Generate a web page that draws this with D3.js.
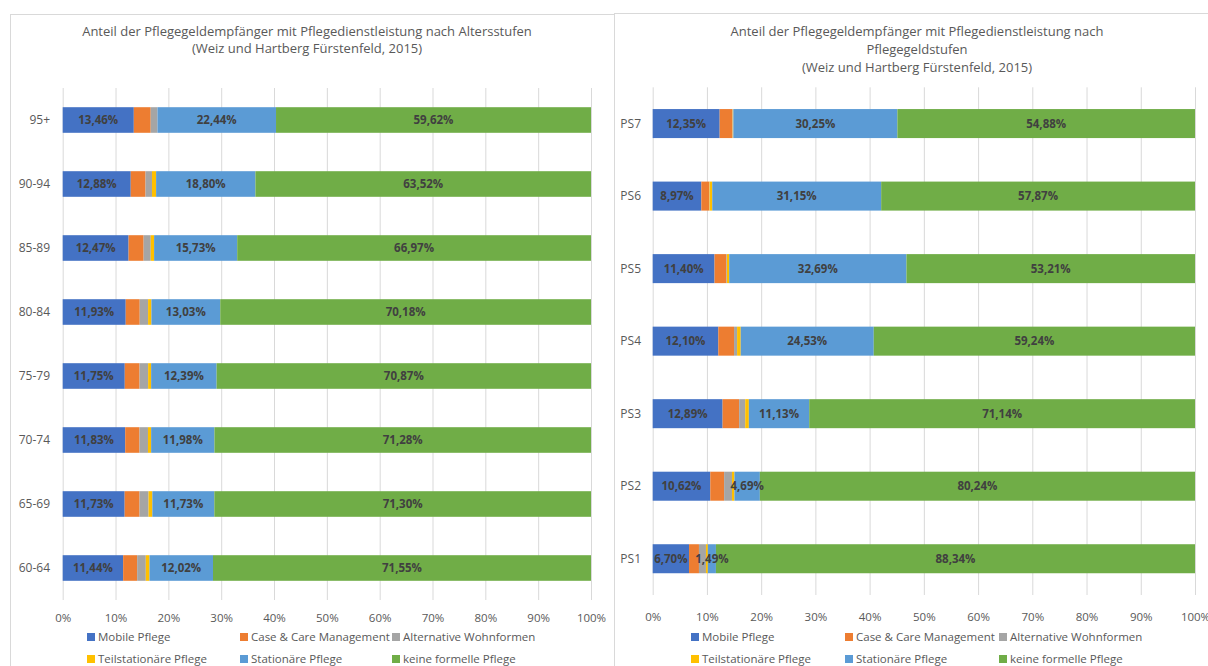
<!DOCTYPE html>
<html>
<head>
<meta charset="utf-8">
<script src="https://cdn.jsdelivr.net/npm/d3@7"></script>
<style>
  body { margin: 0; background: #fff; }
  svg { display: block; font-family: "Open Sans", "Noto Sans", sans-serif; }
</style>
</head>
<body>
<svg id="chart" width="1208" height="666"></svg>
<script>
// series names, in stacking order
var seriesNames = ['Mobile Pflege', 'Case & Care Management', 'Alternative Wohnformen',
  'Teilstationäre Pflege', 'Stationäre Pflege', 'keine formelle Pflege']
var seriesColors = ['#4472C4', '#ED7D31', '#A5A5A5', '#FFC000', '#5B9BD5', '#70AD47']
// only these series carry data labels
var labelledSeries = [0, 4, 5]

// left chart: age groups
var ageGroups = ['95+', '90-94', '85-89', '80-84', '75-79', '70-74', '65-69', '60-64']
var ageMobile = [13.46, 12.88, 12.47, 11.93, 11.75, 11.83, 11.73, 11.44]
var ageCase = [3.20, 2.80, 2.85, 2.65, 2.80, 2.71, 2.82, 2.65]
var ageAlt = [1.28, 1.22, 1.35, 1.58, 1.62, 1.60, 1.70, 1.64]
var ageTeil = [0.00, 0.78, 0.63, 0.63, 0.57, 0.60, 0.72, 0.70]
var ageStation = [22.44, 18.80, 15.73, 13.03, 12.39, 11.98, 11.73, 12.02]
var ageKeine = [59.62, 63.52, 66.97, 70.18, 70.87, 71.28, 71.30, 71.55]

// right chart: care levels
var levels = ['PS7', 'PS6', 'PS5', 'PS4', 'PS3', 'PS2', 'PS1']
var levelMobile = [12.35, 8.97, 11.40, 12.10, 12.89, 10.62, 6.70]
var levelCase = [2.35, 1.45, 2.20, 2.90, 3.05, 2.55, 1.83]
var levelAlt = [0.07, 0.06, 0.10, 0.56, 1.12, 1.45, 1.29]
var levelTeil = [0.10, 0.50, 0.40, 0.67, 0.67, 0.45, 0.35]
var levelStation = [30.25, 31.15, 32.69, 24.53, 11.13, 4.69, 1.49]
var levelKeine = [54.88, 57.87, 53.21, 59.24, 71.14, 80.24, 88.34]

var tickValues = [0, 10, 20, 30, 40, 50, 60, 70, 80, 90, 100]

var de = d3.formatLocale({ decimal: ',', thousands: '.', grouping: [3], currency: ['', ' €'] })
var fmtValue = de.format('.2f')

var svg = d3.select('#chart')

drawChart({
  panel: [10.5, 14.5, 604, 700],
  title: ['Anteil der Pflegegeldempfänger mit Pflegedienstleistung nach Altersstufen',
    '(Weiz und Hartberg Fürstenfeld, 2015)'],
  titleX: 307, titleY: [31, 48],
  categories: ageGroups,
  values: [ageMobile, ageCase, ageAlt, ageTeil, ageStation, ageKeine],
  x0: 62.7, x1: 591, y0: 88, y1: 600,
  catX: 50, tickY: 618,
  legendX: [87, 240, 392], legendY: [637, 659]
})

drawChart({
  panel: [614.5, 13.5, 700, 700],
  title: ['Anteil der Pflegegeldempfänger mit Pflegedienstleistung nach',
    'Pflegegeldstufen', '(Weiz und Hartberg Fürstenfeld, 2015)'],
  titleX: 917, titleY: [31, 49, 67],
  categories: levels,
  values: [levelMobile, levelCase, levelAlt, levelTeil, levelStation, levelKeine],
  x0: 652.7, x1: 1195, y0: 87.3, y1: 595,
  catX: 641, tickY: 617,
  legendX: [691, 845, 999], legendY: [637, 659]
})

function drawChart (cfg) {
  var g = svg.append('g')

  g.append('rect')
    .attr('x', cfg.panel[0]).attr('y', cfg.panel[1])
    .attr('width', cfg.panel[2]).attr('height', cfg.panel[3])
    .attr('fill', 'none')
    .attr('stroke', '#d9d9d9')

  g.selectAll('text.title')
    .data(cfg.title)
    .enter().append('text')
    .attr('class', 'title')
    .attr('x', cfg.titleX)
    .attr('y', function (d, i) { return cfg.titleY[i] })
    .attr('dy', '0.35em')
    .attr('text-anchor', 'middle')
    .attr('fill', '#595959')
    .style('font-size', '13px')
    .text(function (d) { return d })

  var x = d3.scaleLinear().domain([0, 100]).range([cfg.x0, cfg.x1])
  var y = d3.scaleBand().domain(cfg.categories).range([cfg.y0, cfg.y1])
    .paddingInner(0.6).paddingOuter(0.3)

  // gridlines
  var grid = g.append('g')
    .attr('transform', 'translate(0,' + cfg.y1 + ')')
    .call(d3.axisBottom(x).tickValues(tickValues).tickSize(-(cfg.y1 - cfg.y0)).tickFormat(''))
  grid.select('.domain').remove()
  grid.selectAll('line').attr('stroke', '#d9d9d9')

  // tick labels
  var ticks = g.append('g')
    .attr('transform', 'translate(0,' + cfg.tickY + ')')
    .call(d3.axisBottom(x).tickValues(tickValues).tickSize(0).tickPadding(0)
      .tickFormat(function (d) { return d + '%' }))
  ticks.select('.domain').remove()
  ticks.selectAll('text')
    .attr('dy', '0.35em')
    .attr('fill', '#595959')
    .style('font-family', '"Open Sans", sans-serif')
    .style('font-size', '11.5px')

  // category labels
  g.selectAll('text.cat')
    .data(cfg.categories)
    .enter().append('text')
    .attr('class', 'cat')
    .attr('x', cfg.catX)
    .attr('y', function (d) { return y(d) + y.bandwidth() / 2 })
    .attr('dy', '0.35em')
    .attr('text-anchor', 'end')
    .attr('fill', '#595959')
    .style('font-size', '12px')
    .text(function (d) { return d })

  // stacked rows
  var rows = cfg.categories.map(function (c, i) {
    var row = { cat: c }
    cfg.values.forEach(function (vals, s) { row[s] = vals[i] })
    return row
  })
  var stack = d3.stack().keys(d3.range(seriesNames.length))(rows)

  var layers = g.selectAll('g.layer')
    .data(stack)
    .enter().append('g')
    .attr('class', 'layer')
    .attr('fill', function (d) { return seriesColors[d.key] })

  layers.selectAll('rect')
    .data(function (d) { return d })
    .enter().append('rect')
    .attr('x', function (d) { return x(d[0]) })
    .attr('y', function (d) { return y(d.data.cat) })
    .attr('width', function (d) { return Math.max(0, x(d[1]) - x(d[0])) })
    .attr('height', y.bandwidth())

  // data labels
  stack.filter(function (d) { return labelledSeries.indexOf(d.key) >= 0 })
    .forEach(function (layer) {
      g.append('g').selectAll('text')
        .data(layer)
        .enter().append('text')
        .attr('x', function (d) { return x((d[0] + d[1]) / 2) })
        .attr('y', function (d) { return y(d.data.cat) + y.bandwidth() / 2 })
        .attr('dy', '0.35em')
        .attr('text-anchor', 'middle')
        .attr('fill', '#404040')
        .style('font-size', '11.5px')
        .style('font-weight', 'bold')
        .text(function (d) { return fmtValue(d[1] - d[0]) + '%' })
    })

  // legend
  var legend = g.selectAll('g.legend')
    .data(seriesNames)
    .enter().append('g')
    .attr('class', 'legend')
    .attr('transform', function (d, i) {
      return 'translate(' + cfg.legendX[i % 3] + ',' + cfg.legendY[Math.floor(i / 3)] + ')'
    })
  legend.append('rect')
    .attr('x', 0).attr('y', -4)
    .attr('width', 8).attr('height', 8)
    .attr('fill', function (d, i) { return seriesColors[i] })
  legend.append('text')
    .attr('x', 11)
    .attr('dy', '0.35em')
    .attr('fill', '#595959')
    .style('font-size', '11.5px')
    .text(function (d) { return d })
}
</script>
</body>
</html>
